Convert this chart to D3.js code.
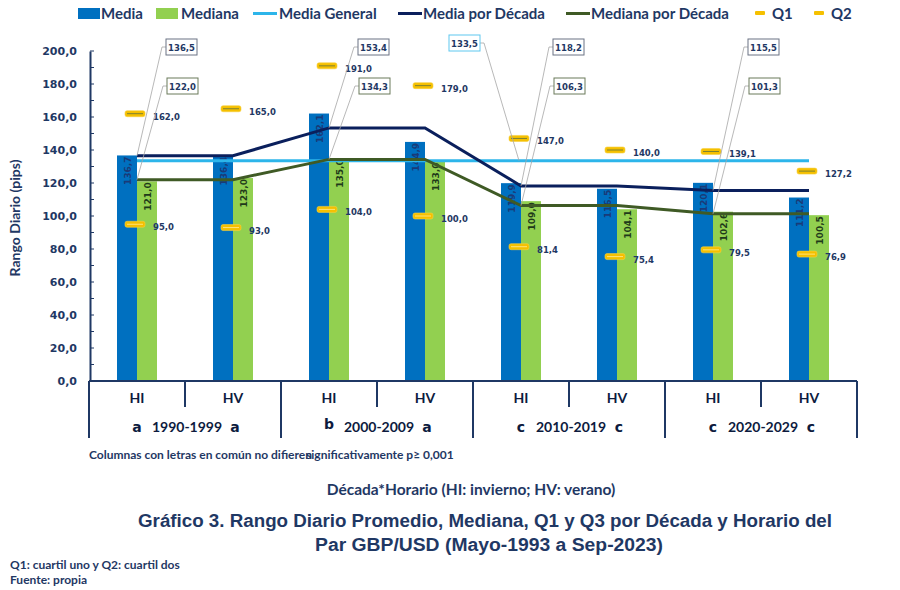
<!DOCTYPE html>
<html><head><meta charset="utf-8">
<script src="https://cdn.jsdelivr.net/npm/d3@7"></script>
<style>
html,body{margin:0;padding:0;background:#fff;}
svg{display:block;}
</style></head>
<body>
<svg id="chart" width="900" height="590"></svg>
<script>
// ---- data ----
const decades = ["1990-1999", "2000-2009", "2010-2019", "2020-2029"];
const horarios = ["HI", "HV"];
const media = [136.7, 136.4, 162.1, 144.9, 119.9, 116.5, 120.1, 111.2];
const mediana = [121.0, 123.0, 135.0, 133.0, 109.0, 104.1, 102.6, 100.5];
const q3 = [162.0, 165.0, 191.0, 179.0, 147.0, 140.0, 139.1, 127.2];
const q1 = [95.0, 93.0, 104.0, 100.0, 81.4, 75.4, 79.5, 76.9];
const mediaDecada = [136.5, 153.4, 118.2, 115.5];
const medianaDecada = [122.0, 134.3, 106.3, 101.3];
const mediaGeneral = 133.5;
const letters = [["a", "a"], ["b", "a"], ["c", "c"], ["c", "c"]];
const yTicks = [0, 20, 40, 60, 80, 100, 120, 140, 160, 180, 200];
const legendItems = ["Media", "Mediana", "Media General", "Media por Década", "Mediana por Década", "Q1", "Q2"];

// ---- setup ----
const fmt = v => d3.format(".1f")(v).replace(".", ",");
const C = {
  media: "#0070c0", mediana: "#92d050", general: "#2db5ea",
  navy: "#0a1f5c", olive: "#3f5a25", text: "#1f3864", gold: "#f5c000"
};
const svg = d3.select("#chart");
const categories = [];
decades.forEach(d => horarios.forEach(h => categories.push(d + "|" + h)));

const x = d3.scaleBand().domain(categories).range([89, 857]).padding(0);
const y = d3.scaleLinear().domain([0, 200]).range([381, 51]);
const cx = i => x(categories[i]) + x.bandwidth() / 2;
const bw = 20;

// ---- bars ----
const g = svg.append("g");
g.selectAll(".bm").data(media).join("rect")
  .attr("x", (d, i) => cx(i) - bw).attr("y", d => y(d))
  .attr("width", bw).attr("height", d => y(0) - y(d)).attr("fill", C.media);
g.selectAll(".bd").data(mediana).join("rect")
  .attr("x", (d, i) => cx(i)).attr("y", d => y(d))
  .attr("width", bw).attr("height", d => y(0) - y(d)).attr("fill", C.mediana);

// bar labels
const lblFont = "DejaVu Sans, Verdana, sans-serif";
g.selectAll(".lm").data(media).join("text")
  .attr("transform", (d, i) => `translate(${cx(i) - bw / 2 + 1},${y(d) + 1}) rotate(-90)`)
  .attr("text-anchor", "end").attr("dominant-baseline", "middle")
  .attr("font-family", lblFont).attr("font-weight", "bold").attr("font-size", 9)
  .attr("fill", "#1a3a78").text(d => fmt(d));
g.selectAll(".ld").data(mediana).join("text")
  .attr("transform", (d, i) => `translate(${cx(i) + bw / 2 + 1},${y(d) + 1}) rotate(-90)`)
  .attr("text-anchor", "end").attr("dominant-baseline", "middle")
  .attr("font-family", lblFont).attr("font-weight", "bold").attr("font-size", 9)
  .attr("fill", "#1f3a1a").text(d => fmt(d));

// ---- lines ----
const expand = arr => arr.flatMap(v => [v, v]);
const line = d3.line().x(d => d[0]).y(d => d[1]);
svg.append("path")
  .attr("d", line([[cx(0), y(mediaGeneral)], [cx(7), y(mediaGeneral)]]))
  .attr("stroke", C.general).attr("stroke-width", 3).attr("fill", "none");
svg.append("path")
  .attr("d", line(expand(mediaDecada).map((v, i) => [cx(i), y(v)])))
  .attr("stroke", C.navy).attr("stroke-width", 3).attr("fill", "none");
svg.append("path")
  .attr("d", line(expand(medianaDecada).map((v, i) => [cx(i), y(v)])))
  .attr("stroke", C.olive).attr("stroke-width", 3).attr("fill", "none");

// ---- quartile markers ----
function markers(vals, inner) {
  const mg = svg.append("g");
  vals.forEach((v, i) => {
    const mx = cx(i) - 2, my = y(v);
    mg.append("rect").attr("x", mx - 10).attr("y", my - 3).attr("width", 20).attr("height", 6)
      .attr("rx", 2).attr("fill", C.gold).attr("stroke", "#f7d040").attr("stroke-width", 0.6);
    mg.append("line").attr("x1", mx - 8).attr("x2", mx + 8).attr("y1", my).attr("y2", my)
      .attr("stroke", inner).attr("stroke-width", 1);
    mg.append("text").attr("x", mx + 18).attr("y", my + 6)
      .attr("font-family", lblFont).attr("font-weight", "bold").attr("font-size", 8.5)
      .attr("fill", C.text).text(fmt(v));
  });
}
markers(q3, "#7d8030");
markers(q1, "#ffe27a");

// ---- callouts ----
function callout(px, py, bx, by, val, border) {
  const w = 31, h = 16;
  svg.append("path")
    .attr("d", line([[px, py], [bx - 4, by + h / 2], [bx, by + h / 2]]))
    .attr("stroke", "#a6a6a6").attr("stroke-width", 0.8).attr("fill", "none");
  svg.append("rect").attr("x", bx).attr("y", by).attr("width", w).attr("height", h)
    .attr("fill", "#fff").attr("stroke", border).attr("stroke-width", 1);
  svg.append("text").attr("x", bx + w / 2).attr("y", by + h / 2 + 3.5).attr("text-anchor", "middle")
    .attr("font-family", lblFont).attr("font-weight", "bold").attr("font-size", 8.5)
    .attr("fill", C.text).text(fmt(val));
}
const boxOff = [29, 29, 32, 35];
mediaDecada.forEach((v, k) => callout(cx(2 * k), y(v), cx(2 * k) + boxOff[k], 39, v, "#6b7384"));
medianaDecada.forEach((v, k) => callout(cx(2 * k), y(v), cx(2 * k) + boxOff[k] + 1, 78, v, "#6b7a5a"));
// media general callout (box on the left of leader)
(function () {
  const px = cx(4) - 2, py = y(mediaGeneral), bx = 449, by = 35, w = 31, h = 16;
  svg.append("path").attr("d", line([[px, py], [bx + w + 4, by + h / 2], [bx + w, by + h / 2]]))
    .attr("stroke", "#a6a6a6").attr("stroke-width", 0.8).attr("fill", "none");
  svg.append("rect").attr("x", bx).attr("y", by).attr("width", w).attr("height", h)
    .attr("fill", "#fff").attr("stroke", "#5ec8ef").attr("stroke-width", 1);
  svg.append("text").attr("x", bx + w / 2).attr("y", by + h / 2 + 3.5).attr("text-anchor", "middle")
    .attr("font-family", lblFont).attr("font-weight", "bold").attr("font-size", 8.5)
    .attr("fill", C.text).text(fmt(mediaGeneral));
})();

// ---- y axis ----
const yAxis = d3.axisLeft(y).tickValues(yTicks).tickFormat(fmt).tickSize(0).tickPadding(13);
const ya = svg.append("g").attr("transform", "translate(90,0)").call(yAxis);
ya.select(".domain").attr("stroke", C.text).attr("stroke-width", 2);
ya.selectAll("text").attr("font-family", lblFont).attr("font-weight", "bold")
  .attr("font-size", 11).attr("fill", C.text);
const minor = d3.range(0, 201, 10);
svg.append("g").selectAll("line").data(minor).join("line")
  .attr("x1", 90).attr("x2", 94).attr("y1", d => y(d)).attr("y2", d => y(d))
  .attr("stroke", C.text).attr("stroke-width", 1);
svg.append("text").attr("transform", "translate(20,218) rotate(-90)")
  .attr("text-anchor", "middle").attr("font-family", "Lato, sans-serif").attr("font-weight", "bold")
  .attr("font-size", 14).attr("fill", C.text).text("Rango Diario (pips)");

// ---- x axis ----
const xa = svg.append("g");
xa.append("line").attr("x1", 89).attr("x2", 857).attr("y1", 381).attr("y2", 381)
  .attr("stroke", C.text).attr("stroke-width", 2);
categories.concat(["end"]).forEach((c, i) => {
  const xx = i < 8 ? x(c) : 857;
  const long = i % 2 === 0;
  xa.append("line").attr("x1", xx).attr("x2", xx).attr("y1", 381).attr("y2", long ? 438 : 407)
    .attr("stroke", C.text).attr("stroke-width", 2);
});
categories.forEach((c, i) => {
  xa.append("text").attr("x", cx(i)).attr("y", 403).attr("text-anchor", "middle")
    .attr("font-family", "Lato, sans-serif").attr("font-weight", "bold").attr("font-size", 14)
    .attr("fill", "#0d1b3e").text(horarios[i % 2]);
});
decades.forEach((d, k) => {
  const mid = (cx(2 * k) + cx(2 * k + 1)) / 2;
  xa.append("text").attr("x", mid + 2).attr("y", 432).attr("text-anchor", "middle")
    .attr("font-family", "Lato, sans-serif").attr("font-weight", "bold").attr("font-size", 14)
    .attr("fill", "#0d1b3e").text(d);
  letters[k].forEach((l, j) => {
    xa.append("text").attr("x", cx(2 * k + j) + (j === 0 ? 0 : 2)).attr("y", l === "b" ? 429 : 432)
      .attr("text-anchor", "middle").attr("font-family", "DejaVu Sans, sans-serif")
      .attr("font-weight", "bold").attr("font-size", 14).attr("fill", "#0d1b3e").text(l);
  });
});

// ---- legend ----
const lg = svg.append("g").attr("font-family", "Lato, sans-serif").attr("font-weight", "bold")
  .attr("font-size", 15).attr("fill", C.text);
const legX = [78, 156, 253, 398, 566, 755, 814];
const legTextX = [101, 181, 279, 423, 591, 772, 831];
const legKinds = [["sq", C.media], ["sq", C.mediana], ["ln", C.general], ["ln", C.navy], ["ln", C.olive], ["q", C.gold], ["q", C.gold]];
legendItems.forEach((t, i) => {
  const [k, col] = legKinds[i];
  if (k === "sq") lg.append("rect").attr("x", legX[i]).attr("y", 8).attr("width", 22).attr("height", 11).attr("fill", col);
  else if (k === "ln") lg.append("rect").attr("x", legX[i]).attr("y", 12).attr("width", 24).attr("height", 3).attr("fill", col);
  else lg.append("rect").attr("x", legX[i]).attr("y", 11).attr("width", 10).attr("height", 4).attr("rx", 1).attr("fill", col);
  lg.append("text").attr("x", legTextX[i]).attr("y", 19).text(t);
});

// ---- notes & titles ----
const note = (t, xx, yy, size, weight, anchor, fam, len) => {
  const el = svg.append("text").attr("x", xx).attr("y", yy).attr("font-size", size)
    .attr("font-weight", weight).attr("text-anchor", anchor || "start")
    .attr("font-family", fam || "Lato, sans-serif").attr("fill", C.text).text(t);
  if (len) el.attr("textLength", len).attr("lengthAdjust", "spacingAndGlyphs");
  return el;
};
note("Columnas con letras en común no difieren", 89, 459, 12, "bold");
note("significativamente p≥ 0,001", 306, 459, 12, "bold");
note("Década*Horario (HI: invierno; HV: verano)", 471, 495, 15.5, "bold", "middle");
note("Gráfico 3. Rango Diario Promedio, Mediana, Q1 y Q3 por Década y Horario del", 485, 527, 18, "bold", "middle", "Liberation Sans, Arial, sans-serif", 694);
note("Par GBP/USD (Mayo-1993 a Sep-2023)", 489, 551, 18, "bold", "middle", "Liberation Sans, Arial, sans-serif", 348);
note("Q1: cuartil uno y Q2: cuartil dos", 10, 569, 12, "bold");
note("Fuente: propia", 10, 584, 12, "bold");
</script>
</body></html>
